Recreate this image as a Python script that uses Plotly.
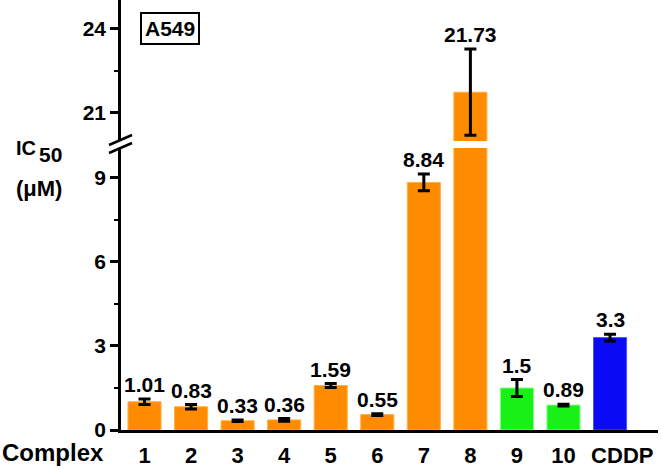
import plotly.graph_objects as go

# ---- data ----
categories = ["1", "2", "3", "4", "5", "6", "7", "8", "9", "10", "CDDP"]
ic50 = [1.01, 0.83, 0.33, 0.36, 1.59, 0.55, 8.84, 21.73, 1.5, 0.89, 3.3]
errors = [0.10, 0.08, 0.03, 0.05, 0.07, 0.03, 0.30, 1.53, 0.30, 0.03, 0.12]
labels = ["1.01", "0.83", "0.33", "0.36", "1.59", "0.55", "8.84", "21.73", "1.5", "0.89", "3.3"]
bar_colors = ["#FF8C00"] * 8 + ["#18F018", "#18F018", "#0A0AF5"]
edge_colors = ["#FFB040"] * 8 + ["#80FF80", "#80FF80", "#5050FF"]

# ---- layout geometry ----
W, H = 661, 469
L, R, T, B = 121, 3, 0, 39
PW, PH = W - L - R, H - T - B
LOW_TOP = 10.07          # top of the lower axis segment
UP_RANGE = [20, 25]      # upper axis segment


def px_x(px):
    return (px - L) / PW


def px_y(py):
    return (PH - py) / PH


FONT = "Arial, Liberation Sans, sans-serif"

fig = go.Figure()

# lower segment bars (bars above the break are clipped at the top)
fig.add_trace(go.Bar(
    x=categories, y=ic50,
    marker=dict(color=bar_colors, line=dict(color=edge_colors, width=1)),
    error_y=dict(type="data", array=errors, color="black", thickness=3, width=6),
    xaxis="x", yaxis="y", showlegend=False, hoverinfo="skip",
))

# upper segment bars (only those exceeding the break)
up_idx = [i for i, v in enumerate(ic50) if v > LOW_TOP]
fig.add_trace(go.Bar(
    x=[categories[i] for i in up_idx], y=[ic50[i] for i in up_idx],
    marker=dict(color=[bar_colors[i] for i in up_idx],
                line=dict(color=[edge_colors[i] for i in up_idx], width=1)),
    error_y=dict(type="data", array=[errors[i] for i in up_idx],
                 color="black", thickness=3, width=6),
    xaxis="x", yaxis="y2", showlegend=False, hoverinfo="skip",
))

annotations = []
for i, (v, e, t) in enumerate(zip(ic50, errors, labels)):
    annotations.append(dict(
        x=i, y=v + e, xref="x", yref="y2" if v > LOW_TOP else "y",
        text=t, showarrow=False, yanchor="bottom", yshift=1,
        font=dict(family=FONT, size=21, color="black", weight="bold"),
    ))

# axis title pieces and labels
annotations += [
    dict(x=px_x(38), y=px_y(147.5), xref="paper", yref="paper", text="IC",
         showarrow=False, xanchor="right", yanchor="middle",
         font=dict(family=FONT, size=20, color="black", weight="bold")),
    dict(x=px_x(37), y=px_y(154), xref="paper", yref="paper", text="50",
         showarrow=False, xanchor="left", yanchor="middle",
         font=dict(family=FONT, size=21, color="black", weight="bold")),
    dict(x=px_x(39), y=px_y(188), xref="paper", yref="paper", text="(μM)",
         showarrow=False, xanchor="center", yanchor="middle",
         font=dict(family=FONT, size=22, color="black", weight="bold")),
    dict(x=px_x(106), y=px_y(452), xref="paper", yref="paper", text="Complex",
         showarrow=False, xanchor="right", yanchor="middle",
         font=dict(family=FONT, size=24, color="black", weight="bold")),
    dict(x=px_x(170), y=px_y(28), xref="paper", yref="paper", text="A549",
         showarrow=False, xanchor="center", yanchor="middle",
         bordercolor="black", borderwidth=2, borderpad=3,
         font=dict(family=FONT, size=21, color="black", weight="bold")),
]

# axis break marks
shapes = []
for y_left, y_right in [(145, 135), (153, 143)]:
    shapes.append(dict(type="line", xref="paper", yref="paper",
                       x0=px_x(109), x1=px_x(132), y0=px_y(y_left), y1=px_y(y_right),
                       line=dict(color="black", width=2.5)))

axis_common = dict(
    showline=True, linecolor="black", linewidth=2.5, showgrid=False, zeroline=False,
    automargin=False,
    ticks="outside", ticklen=8, tickwidth=2.5, tickcolor="black", dtick=3, tick0=0,
    minor=dict(ticks="outside", ticklen=4, tickwidth=2, tickcolor="black", dtick=1.5, tick0=0),
    tickfont=dict(family=FONT, size=21, color="black", weight="bold"),
)

# tick text: the last label sits slightly right of its bar in the original
tick_text = categories[:-1] + ["\u00a0" * 4 + categories[-1]]

fig.update_layout(
    width=W, height=H,
    margin=dict(l=L, r=R, t=T, b=B, pad=0, autoexpand=False),
    paper_bgcolor="white", plot_bgcolor="white",
    barmode="overlay", bargap=0.29,
    xaxis=dict(domain=[0, 1], range=[-0.505, 11.03], anchor="y", automargin=False,
               showline=True, linecolor="black", linewidth=3, ticks="",
               tickmode="array", tickvals=categories, ticktext=tick_text,
               tickangle=0, ticklabelstandoff=4,
               showgrid=False, zeroline=False,
               tickfont=dict(family=FONT, size=22, color="black", weight="bold")),
    yaxis=dict(domain=[0, px_y(148)], range=[0, LOW_TOP], anchor="x", **axis_common),
    yaxis2=dict(domain=[px_y(141), 1], range=UP_RANGE, anchor="x", **axis_common),
    annotations=annotations, shapes=shapes,
)

fig.write_html(
    "out.html",
    config={"displayModeBar": False},
    post_script="document.body.style.margin='0';document.body.style.overflow='hidden';",
)
